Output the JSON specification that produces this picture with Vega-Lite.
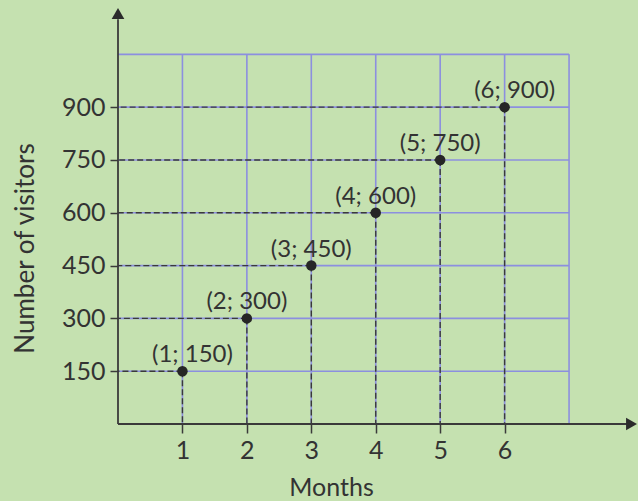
{
  "$schema": "https://vega.github.io/schema/vega-lite/v6.json",
  "width": 520,
  "height": 414,
  "autosize": {"type": "none"},
  "padding": {"left": 118, "top": 10, "right": 0, "bottom": 77},
  "background": "#c5e1b0",
  "config": {"view": {"stroke": null}, "font": "Lato"},
  "datasets": {
    "points": [
      {"month": 1, "visitors": 150, "label": "(1; 150)"},
      {"month": 2, "visitors": 300, "label": "(2; 300)"},
      {"month": 3, "visitors": 450, "label": "(3; 450)"},
      {"month": 4, "visitors": 600, "label": "(4; 600)"},
      {"month": 5, "visitors": 750, "label": "(5; 750)"},
      {"month": 6, "visitors": 900, "label": "(6; 900)"}
    ],
    "vgrid": [{"x": 1}, {"x": 2}, {"x": 3}, {"x": 4}, {"x": 5}, {"x": 6}, {"x": 7}],
    "hgrid": [{"y": 150}, {"y": 300}, {"y": 450}, {"y": 600}, {"y": 750}, {"y": 900}, {"y": 1050}]
  },
  "layer": [
    {
      "data": {"name": "points"},
      "mark": {"type": "point", "opacity": 0},
      "encoding": {
        "x": {"field": "month", "type": "quantitative",
              "scale": {"domain": [0, 8.07], "nice": false, "zero": false},
              "axis": {"values": [1, 2, 3, 4, 5, 6], "format": "d", "domain": false, "grid": false,
                       "ticks": true, "tickSize": 9, "tickColor": "#3a3a3a", "tickWidth": 1.5,
                       "labelFontSize": 25, "labelColor": "#333333", "labelPadding": 5, "labelFont": "Lato",
                       "title": "Months", "titleFontSize": 25, "titleFontWeight": "normal", "titleColor": "#333333", "titleFont": "Lato",
                       "titleX": 213, "titleY": 71, "titleBaseline": "alphabetic", "titleAlign": "center"}},
        "y": {"field": "visitors", "type": "quantitative",
              "scale": {"domain": [0, 1176], "nice": false, "zero": false},
              "axis": {"values": [150, 300, 450, 600, 750, 900], "format": "d", "domain": false, "grid": false,
                       "ticks": true, "tickSize": 8, "tickColor": "#3a3a3a", "tickWidth": 1.5,
                       "labelFontSize": 25, "labelColor": "#333333", "labelPadding": 5, "labelFont": "Lato",
                       "title": "Number of visitors", "titleFontSize": 26, "titleFontWeight": "normal", "titleColor": "#333333", "titleFont": "Lato",
                       "titleAngle": 270, "titleX": -85, "titleY": 238, "titleBaseline": "alphabetic", "titleAlign": "center"}}
      }
    },
    {
      "data": {"name": "vgrid"},
      "mark": {"type": "rule", "color": "#8c8fdf", "strokeWidth": 1.6},
      "encoding": {
        "x": {"field": "x", "type": "quantitative"},
        "y": {"datum": 0, "type": "quantitative"},
        "y2": {"datum": 1050}
      }
    },
    {
      "data": {"name": "hgrid"},
      "mark": {"type": "rule", "color": "#8c8fdf", "strokeWidth": 1.6},
      "encoding": {
        "y": {"field": "y", "type": "quantitative"},
        "x": {"datum": 0, "type": "quantitative"},
        "x2": {"datum": 7}
      }
    },
    {
      "data": {"name": "points"},
      "mark": {"type": "rule", "color": "#3a3a3a", "strokeWidth": 1.4, "strokeDash": [6, 3]},
      "encoding": {
        "x": {"field": "month", "type": "quantitative"},
        "y": {"field": "visitors", "type": "quantitative"},
        "y2": {"datum": 0}
      }
    },
    {
      "data": {"name": "points"},
      "mark": {"type": "rule", "color": "#3a3a3a", "strokeWidth": 1.4, "strokeDash": [6, 3]},
      "encoding": {
        "y": {"field": "visitors", "type": "quantitative"},
        "x": {"field": "month", "type": "quantitative"},
        "x2": {"datum": 0}
      }
    },
    {
      "data": {"values": [{"a": 0}]},
      "mark": {"type": "rule", "color": "#3a3a3a", "strokeWidth": 1.8},
      "encoding": {
        "x": {"datum": 0, "type": "quantitative"},
        "y": {"datum": 0, "type": "quantitative"},
        "y2": {"datum": 1150}
      }
    },
    {
      "data": {"values": [{"a": 0}]},
      "mark": {"type": "rule", "color": "#3a3a3a", "strokeWidth": 1.8},
      "encoding": {
        "y": {"datum": 0, "type": "quantitative"},
        "x": {"datum": 0, "type": "quantitative"},
        "x2": {"datum": 7.9}
      }
    },
    {
      "data": {"values": [{"a": 0}]},
      "mark": {"type": "point", "shape": "triangle-up", "filled": true, "color": "#2b2b2b", "size": 160, "opacity": 1},
      "encoding": {
        "x": {"datum": 0, "type": "quantitative"},
        "y": {"datum": 1166, "type": "quantitative"}
      }
    },
    {
      "data": {"values": [{"a": 0}]},
      "mark": {"type": "point", "shape": "triangle-right", "filled": true, "color": "#2b2b2b", "size": 160, "opacity": 1},
      "encoding": {
        "x": {"datum": 7.97, "type": "quantitative"},
        "y": {"datum": 0, "type": "quantitative"}
      }
    },
    {
      "data": {"name": "points"},
      "mark": {"type": "point", "filled": true, "color": "#262626", "size": 110, "opacity": 1},
      "encoding": {
        "x": {"field": "month", "type": "quantitative"},
        "y": {"field": "visitors", "type": "quantitative"}
      }
    },
    {
      "data": {"name": "points"},
      "transform": [{"filter": "datum.month > 1 && datum.month < 6"}],
      "mark": {"type": "text", "fontSize": 24, "font": "Lato", "color": "#333333", "baseline": "alphabetic", "dy": -9, "dx": 0},
      "encoding": {
        "x": {"field": "month", "type": "quantitative"},
        "y": {"field": "visitors", "type": "quantitative"},
        "text": {"field": "label"}
      }
    },
    {
      "data": {"name": "points"},
      "transform": [{"filter": "datum.month == 1 || datum.month == 6"}],
      "mark": {"type": "text", "fontSize": 24, "font": "Lato", "color": "#333333", "baseline": "alphabetic", "dy": -9, "dx": 10},
      "encoding": {
        "x": {"field": "month", "type": "quantitative"},
        "y": {"field": "visitors", "type": "quantitative"},
        "text": {"field": "label"}
      }
    }
  ]
}
